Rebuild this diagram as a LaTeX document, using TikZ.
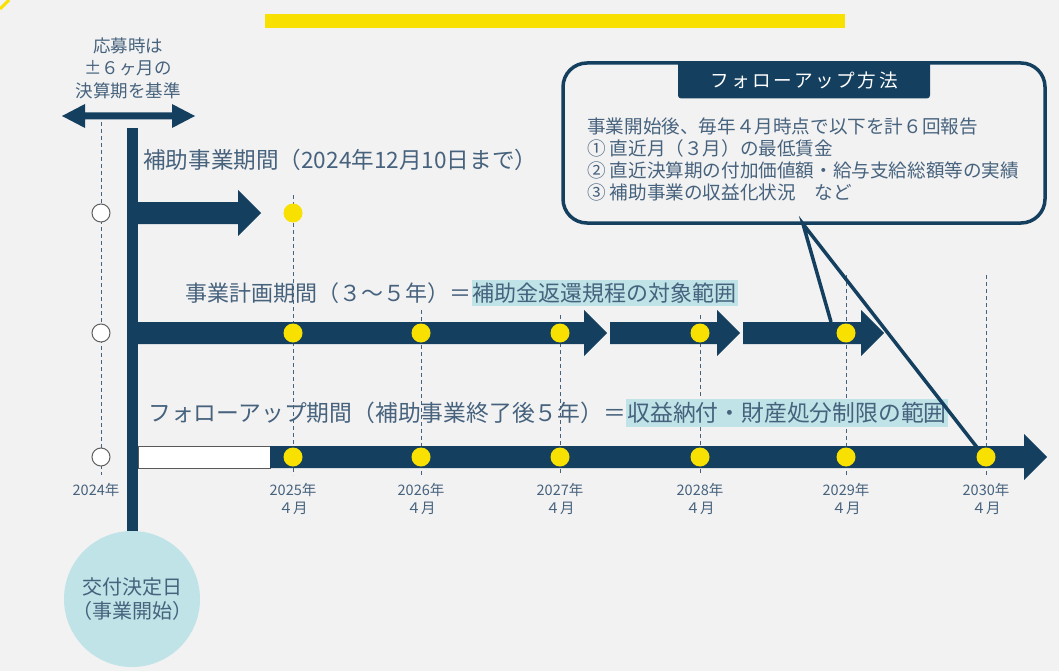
\documentclass[tikz,border=0pt]{standalone}
\usepackage{fontspec}
\newfontfamily\jp{Noto Sans CJK JP}
\newfontfamily\jpwide{Noto Sans CJK JP}[LetterSpace=14]
\usetikzlibrary{calc}

\definecolor{navy}{HTML}{143F5F}
\definecolor{inkblue}{HTML}{46627D}
\definecolor{paleteal}{HTML}{BFE3E7}
\definecolor{dotyellow}{HTML}{F8E100}
\definecolor{bggray}{HTML}{F2F2F2}

\newcommand{\notesize}{\fontsize{17.5}{22.5}\selectfont}
\newcommand{\periodsize}{\fontsize{22}{26}\selectfont}
\newcommand{\subsidysize}{\fontsize{22.6}{26}\selectfont}
\newcommand{\followsize}{\fontsize{22.8}{26}\selectfont}
\newcommand{\yearsize}{\fontsize{14.5}{18}\selectfont}
\newcommand{\methodsize}{\fontsize{18.6}{22}\selectfont}
\newcommand{\grantsize}{\fontsize{20}{24}\selectfont}

% block arrow: start x, tip x, centre y
\newcommand{\blockarrow}[3]{%
  \fill[navy] (#1,#3-11) -- (#2-23,#3-11) -- (#2-23,#3-23) -- (#2,#3)
    -- (#2-23,#3+23) -- (#2-23,#3+11) -- (#1,#3+11) -- cycle;}

\tikzset{
  inktext/.style={text=inkblue,inner sep=0},
  yeardot/.style={circle,fill=dotyellow,minimum size=19pt,inner sep=0},
  startdot/.style={circle,draw=gray!75!black,fill=white,line width=1pt,minimum size=18pt,inner sep=0},
  guide/.style={inkblue,line width=0.8pt,dash pattern=on 4pt off 3pt},
}

\begin{document}
\begin{tikzpicture}[x=1pt,y=-1pt]
    % Canvas
    \useasboundingbox (0,0) rectangle (1059,671);
    \fill[bggray] (0,0) rectangle (1059,671);
    \draw[dotyellow,line width=3pt] (0,9) -- (9,0);
    \fill[dotyellow] (265,14) rectangle (845,28);

    % Application note
    \node[inktext,font=\jp\notesize,align=center] (rule) at (128,68) {応募時は\\±６ヶ月の\\決算期を基準};
    \fill[navy] (62,116) -- (85,104) -- (85,112.5) -- (172,112.5) -- (172,104) -- (195,116)
        -- (172,128) -- (172,119.5) -- (85,119.5) -- (85,128) -- cycle;

    % Guide lines
    \draw[guide] (101,122) -- (101,475);
    \foreach \x/\top in {293/195,421/310,560/315,700/315,846/275,986/275}
        \draw[guide] (\x,\top) -- (\x,475);

    % Start bar
    \fill[navy] (127,128) rectangle (138,535);

    % Periods
    \blockarrow{138}{261}{213}
    \blockarrow{138}{607}{333}
    \blockarrow{610}{740}{333}
    \blockarrow{743}{884}{333}
    \filldraw[fill=white,draw=gray!70!black,line width=0.8pt] (138,446) rectangle (270,468);
    \blockarrow{270}{1047}{457}

    % Start points
    \node[startdot] (s1) at (101,213) {};
    \node[startdot] (s2) at (101,333) {};
    \node[startdot] (s3) at (101,457) {};

    % Reporting points
    \node[yeardot] (p2025) at (293,213) {};
    \foreach \x/\yr in {293/2025,421/2026,560/2027,700/2028,846/2029}
        \node[yeardot] (b\yr) at (\x,333) {};
    \foreach \x/\yr in {293/2025,421/2026,560/2027,700/2028,846/2029,986/2030}
        \node[yeardot] (f\yr) at (\x,457) {};

    % Year labels
    \node[inktext,font=\jp\yearsize] (y2024) at (96,490) {2024年};
    \foreach \x/\yr in {293/2025,421/2026,560/2027,700/2028,846/2029,986/2030}
        \node[inktext,font=\jp\yearsize,align=center] (y\yr) at (\x,499) {\yr{}年\\４月};

    % Period labels
    \node[inktext,font=\jp\subsidysize,anchor=west] (subsidy) at (143,160) {補助事業期間（2024年12月10日まで）};
    \node[inktext,font=\jp\periodsize,anchor=west] (plan) at (185,293) {事業計画期間（３～５年）＝};
    \node[inktext,font=\jp\periodsize,anchor=base west,fill=paleteal,inner xsep=1pt,inner ysep=3pt] (planscope) at (plan.base east) {補助金返還規程の対象範囲};
    \node[inktext,font=\jp\followsize,anchor=west] (follow) at (148,413) {フォローアップ期間（補助事業終了後５年）＝};
    \node[inktext,font=\jp\followsize,anchor=base west,fill=paleteal,inner xsep=1pt,inner ysep=3pt] (followscope) at (follow.base east) {収益納付・財産処分制限の範囲};

    % Follow-up method callout
    \node[draw=navy,line width=3.5pt,rounded corners=24pt,fill=bggray,minimum width=482pt,minimum height=160pt] (method) at (804,143) {};
    \node[fill=navy,text=white,font=\jpwide\methodsize,minimum width=252pt,minimum height=37pt,anchor=north,rounded corners=3pt] (methodtitle) at (method.north) {フォローアップ方法};
    \node[inktext,font=\jp\methodsize,align=left,anchor=north west] (methodtext) at (587,118)
        {事業開始後、毎年４月時点で以下を計６回報告\\① 直近月（３月）の最低賃金\\② 直近決算期の付加価値額・給与支給総額等の実績\\③ 補助事業の収益化状況\quad など};
    \coordinate (tail) at (803,224);
    \coordinate (planhit) at (831,322);
    \draw[navy,line width=3.5pt,line join=miter] (planhit) -- (tail) -- (f2030.north west);

    % Grant decision
    \node[circle,fill=paleteal,minimum size=136pt,inner sep=0,text=inkblue,font=\jp\grantsize,align=center] (grant) at (132,599) {交付決定日\\（事業開始）};
\end{tikzpicture}
\end{document}
